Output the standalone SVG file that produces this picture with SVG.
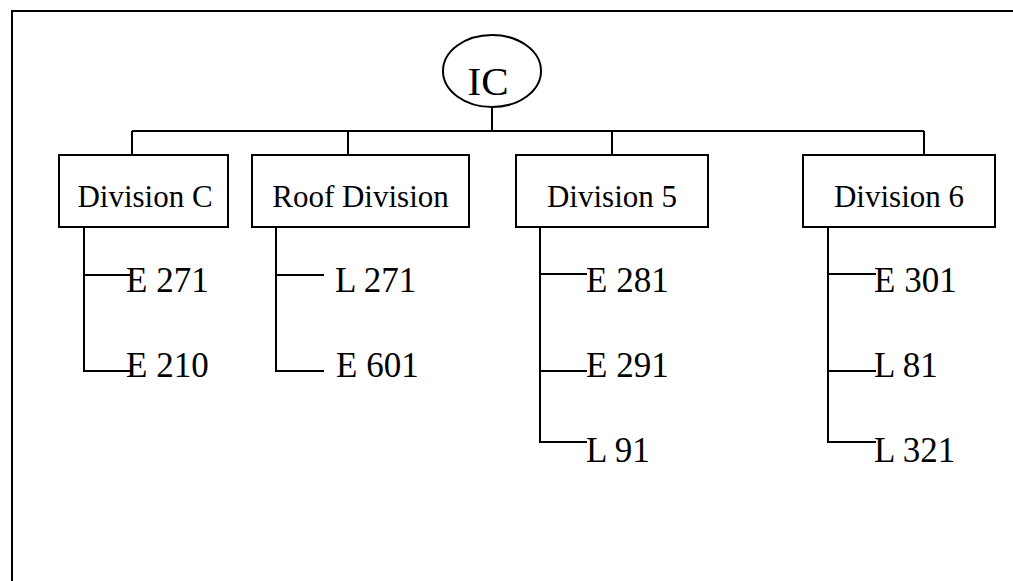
<svg xmlns="http://www.w3.org/2000/svg" width="1013" height="581" viewBox="0 0 1013 581">
<style>
.ln{stroke:#000;stroke-width:2;fill:none}
.box{stroke:#000;stroke-width:2;fill:#fff}
.t{font-family:"Liberation Serif","Times New Roman",serif;fill:#000}
.div{font-size:31px;text-anchor:middle}
.leaf{font-size:35px}
</style>
<rect x="0" y="0" width="1013" height="581" fill="#fff"/>
<path class="ln" d="M12,582 V11 H1014" stroke-width="2.5"/>
<g id="connectors">
<path class="ln" d="M492,107 V131 M132,131 H924 M132,131 V155 M348,131 V155 M612,131 V155 M924,131 V155"/>
<path class="ln" d="M84,227 V371 H132 M84,275 H130"/>
<path class="ln" d="M276,227 V371 H324 M276,275 H324"/>
<path class="ln" d="M540,227 V442 H587 M540,274 H587 M540,371 H587"/>
<path class="ln" d="M828,227 V442 H876 M828,274 H876 M828,371 H876"/>
</g>
<g id="ic">
<ellipse class="box" cx="492" cy="71" rx="49" ry="36"/>
<text class="t" x="488" y="95" font-size="41" text-anchor="middle">IC</text>
</g>
<g id="divC"><rect class="box" x="59" y="155" width="169" height="72"/><text class="t div" x="145" y="207">Division C</text></g>
<g id="roof"><rect class="box" x="252" y="155" width="217" height="72"/><text class="t div" x="360.5" y="207">Roof Division</text></g>
<g id="div5"><rect class="box" x="516" y="155" width="192" height="72"/><text class="t div" x="612" y="207">Division 5</text></g>
<g id="div6"><rect class="box" x="803" y="155" width="192" height="72"/><text class="t div" x="899" y="207">Division 6</text></g>
<g id="e271"><text class="t leaf" x="126" y="292">E 271</text></g>
<g id="e210"><text class="t leaf" x="126" y="377">E 210</text></g>
<g id="l271"><text class="t leaf" x="335" y="292">L 271</text></g>
<g id="e601"><text class="t leaf" x="336" y="377">E 601</text></g>
<g id="e281"><text class="t leaf" x="586" y="292">E 281</text></g>
<g id="e291"><text class="t leaf" x="586" y="377">E 291</text></g>
<g id="l91"><text class="t leaf" x="586" y="462">L 91</text></g>
<g id="e301"><text class="t leaf" x="874" y="292">E 301</text></g>
<g id="l81"><text class="t leaf" x="874" y="377">L 81</text></g>
<g id="l321"><text class="t leaf" x="874" y="462">L 321</text></g>
</svg>
